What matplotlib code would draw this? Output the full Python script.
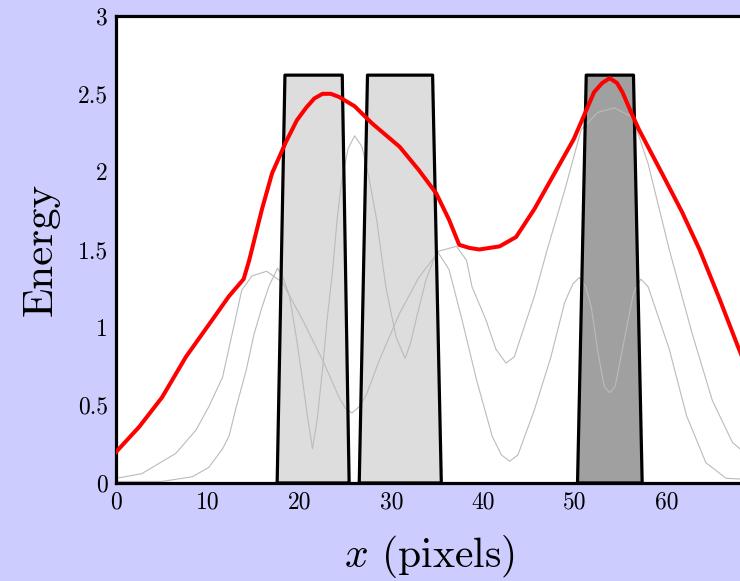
import matplotlib.pyplot as plt
from matplotlib.patches import Polygon

# fonts: computer modern look
plt.rcParams['font.family'] = 'serif'
plt.rcParams['font.serif'] = ['cmr10']
plt.rcParams['mathtext.fontset'] = 'cm'
plt.rcParams['axes.unicode_minus'] = False

# red energy curve
energy_x = [0, 2.5, 5, 7.6, 10.5, 12.3, 13.9, 14.5, 15.9, 17.0, 18.5, 19.7, 20.7,
            21.6, 22.5, 23.4, 24.3, 26.0, 27.9, 30.9, 33.0, 34.9, 36.3, 37.4, 38.5,
            39.6, 41.8, 43.6, 45.6, 47.8, 49.9, 51.0, 52.1, 53.0, 53.8, 54.6, 55.2,
            56.0, 57.0, 59.5, 61.7, 63.6, 65.8, 67.9, 70]
energy_y = [0.20, 0.36, 0.55, 0.81, 1.05, 1.20, 1.31, 1.43, 1.76, 1.99, 2.19, 2.33, 2.41,
            2.47, 2.50, 2.50, 2.48, 2.42, 2.31, 2.16, 2.01, 1.86, 1.69, 1.53, 1.51,
            1.50, 1.52, 1.58, 1.76, 1.99, 2.21, 2.36, 2.51, 2.57, 2.60, 2.57, 2.51,
            2.40, 2.27, 1.99, 1.74, 1.50, 1.18, 0.86, 0.56]

# smooth gray curve
smooth_x = [0, 2.8, 6.5, 8.7, 10.1, 11.6, 12.5, 13.7, 14.8, 16.4, 18.1, 20.3, 22.5,
            24.3, 25.0, 25.7, 26.5, 27.3, 28.7, 30.9, 33.0, 35.2, 37.1, 38.2, 38.8,
            40.3, 41.4, 42.5, 43.4, 45.6, 47.0, 48.9, 50.7, 52.5, 54.3, 56.3, 58.0,
            60.3, 62.8, 65.0, 67.2, 70]
smooth_y = [0.03, 0.06, 0.19, 0.34, 0.49, 0.68, 0.92, 1.24, 1.33, 1.36, 1.29, 1.05, 0.79,
            0.55, 0.48, 0.45, 0.49, 0.57, 0.79, 1.09, 1.32, 1.49, 1.52, 1.43, 1.26,
            1.05, 0.86, 0.77, 0.81, 1.20, 1.50, 1.88, 2.27, 2.38, 2.41, 2.35, 2.05,
            1.50, 0.96, 0.53, 0.26, 0.12]

# detailed gray curve
sharp_x = [0, 5, 8.3, 10.1, 11.6, 12.3, 13.1, 14.2, 15.0, 15.9, 16.7, 17.6, 18.2,
           18.9, 19.6, 20.2, 20.8, 21.4, 21.9, 22.5, 23.0, 23.6, 24.1, 24.6, 25.3,
           26.0, 26.8, 27.6, 28.4, 29.4, 30.5, 31.5, 32.1, 32.7, 33.8, 35.0, 36.3,
           37.7, 39.3, 41.0, 42.0, 42.9, 43.8, 45.6, 47.4, 48.9, 49.8, 50.5, 51.2,
           51.8, 52.5, 53.2, 53.8, 54.4, 55.0, 55.6, 56.4, 57.2, 58.0, 60.3, 62.2,
           64.3, 66.5, 70]
sharp_y = [0.01, 0.01, 0.04, 0.10, 0.22, 0.30, 0.49, 0.73, 0.95, 1.13, 1.27, 1.38, 1.32,
           1.20, 0.95, 0.71, 0.45, 0.22, 0.40, 0.73, 1.05, 1.37, 1.70, 1.95, 2.15,
           2.23, 2.16, 1.95, 1.69, 1.26, 0.94, 0.80, 0.90, 1.05, 1.31, 1.49, 1.37,
           1.05, 0.66, 0.30, 0.18, 0.14, 0.18, 0.47, 0.81, 1.16, 1.28, 1.32, 1.26,
           1.13, 0.85, 0.62, 0.58, 0.62, 0.80, 0.98, 1.22, 1.31, 1.26, 0.86, 0.43,
           0.13, 0.03, 0.02]

# trapezoid blocks: (bottom left, top left, top right, bottom right)
block_left_bottom = [17.55, 26.5, 50.3]
block_left_top = [18.4, 27.4, 51.25]
block_right_top = [24.65, 34.5, 56.4]
block_right_bottom = [25.4, 35.45, 57.35]
block_height = [2.62, 2.62, 2.62]
block_colors = ['#dddddd', '#dddddd', '#a0a0a0']

xtick_pos = [0, 10, 20, 30, 40, 50, 60]
xtick_labels = ['0', '10', '20', '30', '40', '50', '60']
ytick_pos = [0, 0.5, 1, 1.5, 2, 2.5, 3]
ytick_labels = ['0', '0.5', '1', '1.5', '2', '2.5', '3']

fig = plt.figure(figsize=(7.4, 5.81), dpi=100, facecolor='#ccccff')
# axes runs past the right edge of the picture
ax = fig.add_axes([0.157, 0.1687, 0.8676, 0.8038])

for i in range(len(block_colors)):
    pts = [(block_left_bottom[i], 0), (block_left_top[i], block_height[i]),
           (block_right_top[i], block_height[i]), (block_right_bottom[i], 0)]
    ax.add_patch(Polygon(pts, closed=True, facecolor=block_colors[i],
                         edgecolor='none', zorder=1))
    ax.add_patch(Polygon(pts, closed=True, fill=False, edgecolor='black',
                         linewidth=2.3, joinstyle='round', zorder=3))

ax.plot(smooth_x, smooth_y, color='#bbbbbb', linewidth=0.8, zorder=2)
ax.plot(sharp_x, sharp_y, color='#bbbbbb', linewidth=0.8, zorder=2)
ax.plot(energy_x, energy_y, color='red', linewidth=2.9, zorder=4,
        solid_joinstyle='round')

ax.set_xlim(0, 70)
ax.set_ylim(0, 3)
ax.set_xticks(xtick_pos)
ax.set_xticklabels(xtick_labels)
ax.set_yticks(ytick_pos)
ax.set_yticklabels(ytick_labels)
ax.tick_params(length=0, labelsize=17, pad=6)

for s in ax.spines.values():
    s.set_linewidth(2.3)

ax.set_xlabel('$x$ (pixels)', fontsize=30)
ax.xaxis.set_label_coords(0.488, -0.107)
ax.set_ylabel('Energy', fontsize=31, labelpad=13)

fig.savefig('out.png', dpi=100, facecolor=fig.get_facecolor())
